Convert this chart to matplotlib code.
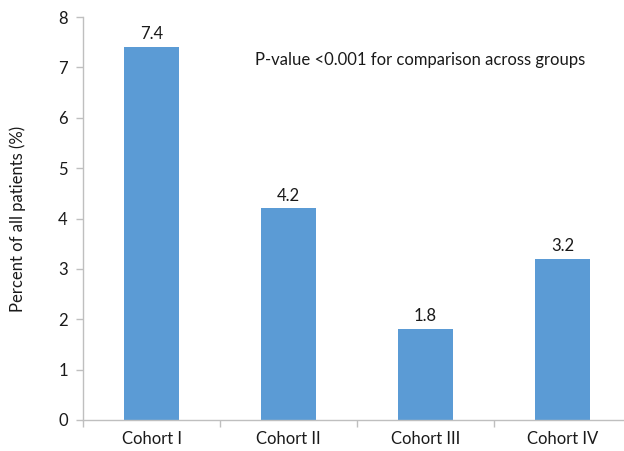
import matplotlib
matplotlib.use("Agg")
import matplotlib.pyplot as plt

categories = ["Cohort I", "Cohort II", "Cohort III", "Cohort IV"]
values = [7.4, 4.2, 1.8, 3.2]
yticks = [0, 1, 2, 3, 4, 5, 6, 7, 8]

plt.rcParams['font.family'] = ['Lato', 'DejaVu Sans']

W, H = 624, 451
fig = plt.figure(figsize=(W/100, H/100), dpi=100)
left, right = 83, 631
top, bottom = 17, 420
ax = fig.add_axes([left/W, (H-bottom)/H, (right-left)/W, (bottom-top)/H])

FS = 12
TC = "#1a1a1a"
x = list(range(len(categories)))
bars = ax.bar(x, values, width=0.4, color="#5B9BD5", zorder=2)
for xi, v in zip(x, values):
    ax.annotate(f"{v:.1f}", (xi, v), xytext=(0, 3.5), textcoords="offset points",
                ha="center", va="bottom", fontsize=FS, color=TC)

ax.set_xlim(-0.5, len(categories) - 0.5)
ax.set_ylim(0, 8)
ax.set_yticks(yticks)
ax.set_yticklabels([str(t) for t in yticks], fontsize=FS, color=TC)
ax.set_xticks(x)
ax.set_xticklabels(categories, fontsize=FS, color=TC)
ax.tick_params(axis="x", length=0, pad=8)
ax.tick_params(axis="y", length=5, color="#BFBFBF", width=1, pad=6)
ax.set_xticks([i + 0.5 for i in range(-1, len(categories))], minor=True)
ax.tick_params(axis="x", which="minor", length=5, color="#BFBFBF", width=1)

for s in ["top", "right"]:
    ax.spines[s].set_visible(False)
for s in ["left", "bottom"]:
    ax.spines[s].set_color("#BFBFBF")
    ax.spines[s].set_linewidth(1)

ax.set_ylabel("Percent of all patients (%)", fontsize=FS, color=TC)
ax.yaxis.set_label_coords((26 - left) / (right - left), 0.5)
ax.text(1.96, 7.15, "P-value <0.001 for comparison across groups", ha="center", va="center",
        fontsize=FS, color=TC)

fig.savefig("out.png", dpi=100)
